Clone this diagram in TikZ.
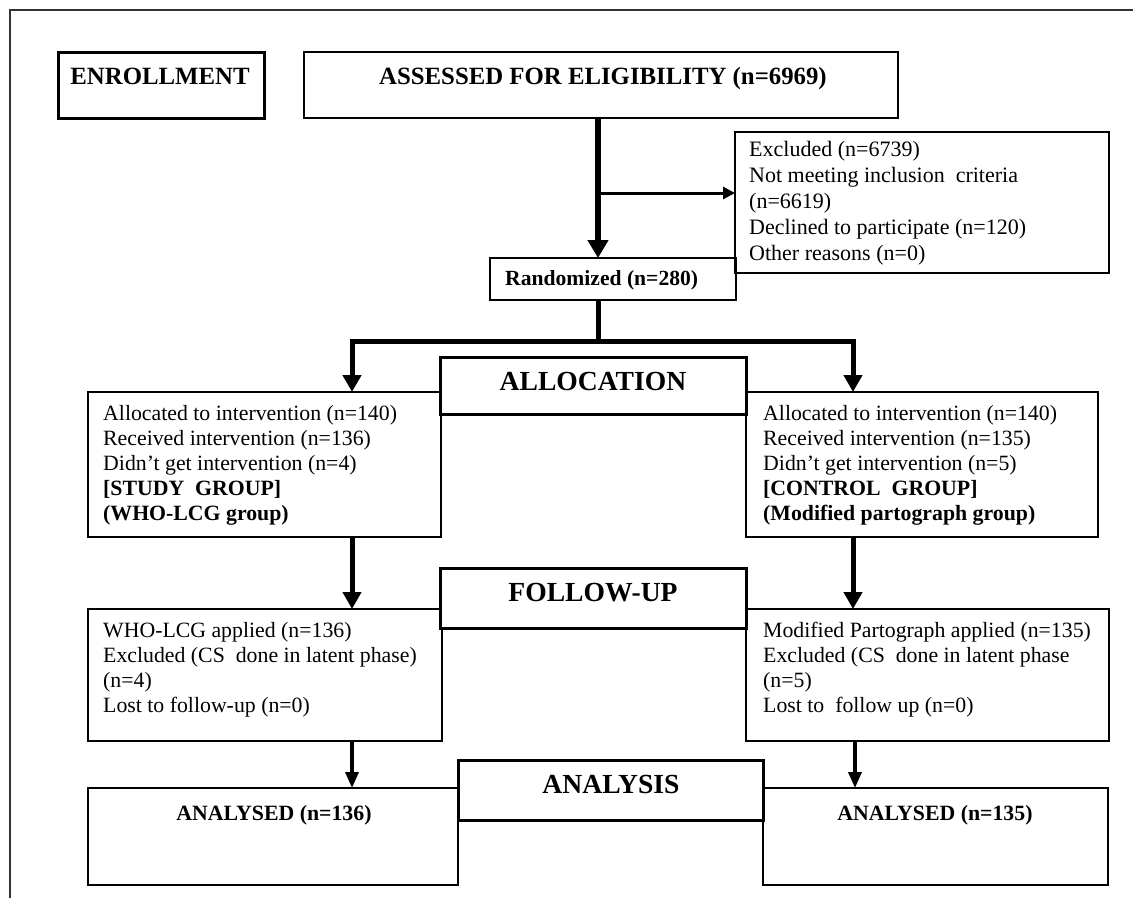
\documentclass[tikz,border=0pt]{standalone}
\usepackage{fontspec}
\setmainfont{Liberation Serif}
\usetikzlibrary{arrows.meta}
\begin{document}
\begin{tikzpicture}[x=1pt,y=-1pt,
  box/.style={draw, line width=1.4pt, anchor=north west, inner sep=0pt, outer sep=0pt},
  hbox/.style={box, line width=3pt},
  body/.style={anchor=north west, inner sep=0pt, align=left, font=\fontsize{21.8}{25}\selectfont},
  bodyb/.style={anchor=base, inner sep=0pt, font=\bfseries\fontsize{21.8}{25}\selectfont},
  headA/.style={anchor=base, inner sep=0pt, font=\bfseries\fontsize{24.8}{28}\selectfont},
  headB/.style={anchor=base, inner sep=0pt, font=\bfseries\fontsize{27.6}{30}\selectfont},
  thickline/.style={line width=5pt, line join=miter},
  bigarrow/.style={thickline, -{Triangle[length=17pt,width=18pt]}},
  toparrow/.style={line width=6pt, -{Triangle[length=18pt,width=20pt]}},
  sidearrow/.style={line width=3pt, -{Triangle[length=12pt,width=12pt]}},
  smallarrow/.style={line width=3.5pt, -{Triangle[length=16pt,width=13pt]}}
]
\useasboundingbox (0,0) rectangle (1133,898);
\draw[line width=1.3pt, black!80] (10,898) -- (10,10) -- (1133,10);

% boxes
\node[hbox, minimum width=206pt, minimum height=66pt] (enr) at (58,52) {};
\node[box, minimum width=594pt, minimum height=66pt] (ass) at (304,52) {};
\node[box, minimum width=374pt, minimum height=141pt] (exc) at (735,132) {};
\node[box, minimum width=246pt, minimum height=42pt] (rnd) at (490,258) {};
\node[box, minimum width=353pt, minimum height=145pt] (la) at (88,392) {};
\node[box, minimum width=352pt, minimum height=145pt] (ra) at (746,392) {};
\node[hbox, minimum width=306pt, minimum height=57pt, fill=white] (alloc) at (440,357) {};
\node[box, minimum width=354pt, minimum height=132pt] (lf) at (88,609) {};
\node[box, minimum width=363pt, minimum height=132pt] (rf) at (746,609) {};
\node[hbox, minimum width=306pt, minimum height=60pt, fill=white] (fu) at (440,568) {};
\node[box, minimum width=370pt, minimum height=97pt] (lan) at (88,788) {};
\node[box, minimum width=345pt, minimum height=97pt] (ran) at (763,788) {};
\node[hbox, minimum width=305pt, minimum height=60pt, fill=white] (an) at (458,760) {};

% texts
\node[headA] (enrt) at (160,84) {ENROLLMENT};
\node[headA] (asst) at (603,84) {ASSESSED FOR ELIGIBILITY (n=6969)};
\node[body, font=\bfseries\fontsize{21.6}{25}\selectfont] (rndt) at (505,270.5) {Randomized (n=280)};
\node[body, font=\fontsize{22}{26}\selectfont] (exct) at (749,141) {Excluded (n=6739)\\Not meeting inclusion\ \ criteria\\(n=6619)\\Declined to participate (n=120)\\Other reasons (n=0)};
\node[headB] (alloct) at (593,390) {ALLOCATION};
\node[body] (lat) at (103,405) {Allocated to intervention (n=140)\\Received intervention (n=136)\\Didn't get intervention (n=4)\\\textbf{[STUDY\ \ GROUP]}\\\textbf{(WHO-LCG group)}};
\node[body] (rat) at (763,405) {Allocated to intervention (n=140)\\Received intervention (n=135)\\Didn't get intervention (n=5)\\\textbf{[CONTROL\ \ GROUP]}\\\textbf{(Modified partograph group)}};
\node[headB] (fut) at (593,601) {FOLLOW-UP};
\node[body] (lft) at (103,622) {WHO-LCG applied (n=136)\\Excluded (CS\ \ done in latent phase)\\(n=4)\\Lost to follow-up (n=0)};
\node[body] (rft) at (763,622) {Modified Partograph applied (n=135)\\Excluded (CS\ \ done in latent phase\\(n=5)\\Lost to\ \ follow up (n=0)};
\node[headB] (ant) at (611,793) {ANALYSIS};
\node[bodyb] (lant) at (274,820) {ANALYSED (n=136)};
\node[bodyb] (rant) at (935,820) {ANALYSED (n=135)};

% connectors
\coordinate (cx) at (598,0);
\coordinate (br) at (598,193);
\coordinate (jl) at (352,341);
\coordinate (jr) at (853,341);
\coordinate (al) at (352,0);
\coordinate (ar) at (855,0);
\draw[toparrow] (ass.south -| cx) -- (rnd.north -| cx);
\draw[sidearrow] (br) -- (br -| exc.west);
\draw[thickline] (rnd.south -| cx) -- (jl -| cx);
\draw[bigarrow] (jl -| cx) -- (jl) -- (la.north -| jl);
\draw[bigarrow] (jr -| cx) -- (jr) -- (ra.north -| jr);
\draw[bigarrow] (la.south -| jl) -- (lf.north -| jl);
\draw[bigarrow] (ra.south -| jr) -- (rf.north -| jr);
\draw[smallarrow] (lf.south -| al) -- (lan.north -| al);
\draw[smallarrow] (rf.south -| ar) -- (ran.north -| ar);
\end{tikzpicture}
\end{document}
